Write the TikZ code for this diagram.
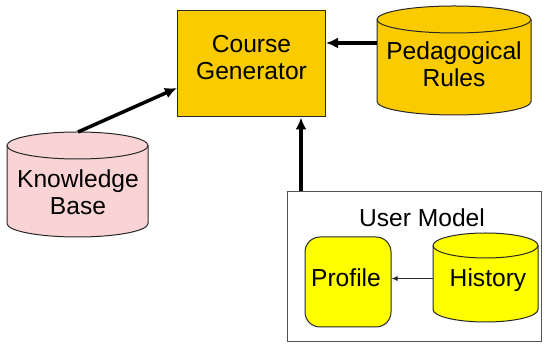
\documentclass[tikz,border=0pt]{standalone}
\usepackage{fontspec}
\setmainfont{Liberation Sans}
\usetikzlibrary{arrows.meta}
\definecolor{gold}{RGB}{250,204,0}
\definecolor{pinkfill}{RGB}{250,212,212}
\definecolor{brightyellow}{RGB}{255,255,0}
\definecolor{edge}{RGB}{40,40,40}
\newcommand\mycyl[7]{% #1 name, #2 x1, #3 ytop(px), #4 x2, #5 ybot(px), #6 ry, #7 fill
  \pgfmathsetmacro\cylcx{(#2+#4)/2}
  \pgfmathsetmacro\cylrx{(#4-#2)/2}
  \pgfmathsetmacro\cylyt{344-#3-#6}
  \pgfmathsetmacro\cylyb{344-#5+#6}
  \filldraw[shapeline, fill=#7] (#2,\cylyt) -- (#2,\cylyb)
     arc[start angle=180,end angle=360,x radius=\cylrx,y radius=#6]
     -- (#4,\cylyt)
     arc[start angle=0,end angle=180,x radius=\cylrx,y radius=#6] -- cycle;
  \draw[shapeline] (#2,\cylyt) arc[start angle=180,end angle=360,x radius=\cylrx,y radius=#6];
  \node[inner sep=0, minimum width=#4-#2, minimum height=#5-#3] (#1) at (\cylcx,{344-(#3+#5)/2}) {};
}
\tikzset{
  shapeline/.style={draw=edge, line width=1pt},
  lbl/.style={font=\fontsize{24.6}{27}\selectfont, align=center, inner sep=0},
  bigarrow/.style={line width=3.5pt, -{Latex[length=12pt,width=11pt]}},
  smallarrow/.style={line width=1pt, draw=edge, -{Latex[length=6pt,width=5pt]}},
}
\begin{document}
\begin{tikzpicture}[x=1pt,y=1pt]
\useasboundingbox (0,0) rectangle (545,344);
% Course Generator
\node[shapeline, fill=gold, inner sep=0, minimum width=148, minimum height=106] (cg) at (251.5,{344-64}) {};
\node[lbl] (cgt) at (251.5,{344-58}) {Course\\Generator};
% Pedagogical Rules
\mycyl{ped}{377}{6}{531}{115}{13.5}{gold}
\node[lbl] (pedt) at (454,{344-64}) {Pedagogical\\Rules};
% Knowledge Base
\mycyl{kb}{7}{132}{148}{237}{13.5}{pinkfill}
\node[lbl] (kbt) at (78,{344-192.5}) {Knowledge\\Base};
% User Model
\node[draw=edge!80, line width=1pt, fill=white, inner sep=0, minimum width=254, minimum height=150] (um) at (414,{344-267}) {};
\node[lbl] (umt) at (422,{344-217.5}) {User Model};
\node[shapeline, fill=brightyellow, rounded corners=15pt, inner sep=0, minimum width=86, minimum height=90] (prof) at (348,{344-282}) {};
\node[lbl] (proft) at (346,{344-277.5}) {Profile};
\mycyl{hist}{433}{233}{538}{322}{12.5}{brightyellow}
\node[lbl] (histt) at (488,{344-280}) {History};
% connectors
\coordinate (pedW) at (377,{344-43});
\coordinate (kbTop) at (78,{344-132});
\coordinate (cgL) at (177,{344-88});
\coordinate (umTop) at (301,{344-191});
\coordinate (histW) at (433,{344-278.5});
\draw[bigarrow] (pedW) -- (cg.east |- pedW);
\draw[bigarrow] (kbTop) -- (cgL);
\draw[bigarrow] (umTop) -- (cg.south -| umTop);
\draw[smallarrow] (histW) -- (prof.east |- histW);
\end{tikzpicture}
\end{document}
